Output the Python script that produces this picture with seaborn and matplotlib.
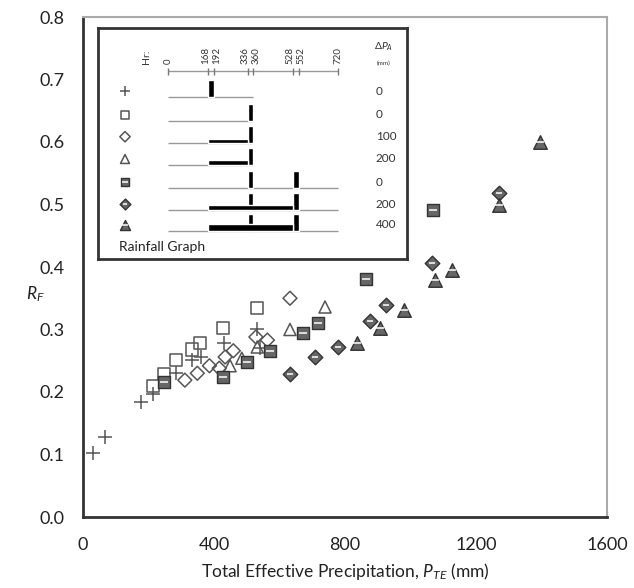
import matplotlib
matplotlib.use("Agg")
import matplotlib.pyplot as plt
import seaborn as sns
import pandas as pd

# ---------------- data ----------------
plus_x = [30, 67, 177, 214, 285, 334, 360, 431, 532, 540]
plus_y = [0.103, 0.128, 0.184, 0.197, 0.230, 0.251, 0.256, 0.279, 0.301, 0.271]

sq_x = [215, 248, 284, 332, 357, 428, 530]
sq_y = [0.210, 0.229, 0.251, 0.268, 0.278, 0.302, 0.334]

dia_x = [311, 349, 386, 416, 434, 459, 528, 563, 632]
dia_y = [0.219, 0.230, 0.242, 0.238, 0.256, 0.266, 0.288, 0.283, 0.350]

tri_x = [449, 485, 532, 632, 739]
tri_y = [0.242, 0.254, 0.272, 0.300, 0.336]

sqf_x = [247, 427, 500, 571, 671, 718, 864, 1068]
sqf_y = [0.216, 0.224, 0.248, 0.266, 0.295, 0.311, 0.381, 0.491]

diaf_x = [632, 708, 778, 876, 924, 1065, 1270]
diaf_y = [0.229, 0.256, 0.272, 0.314, 0.339, 0.406, 0.518]

trif_x = [836, 907, 981, 1075, 1126, 1270, 1395]
trif_y = [0.279, 0.302, 0.331, 0.379, 0.395, 0.499, 0.600]

x_ticks = [0, 400, 800, 1200, 1600]
y_ticks = [0.0, 0.1, 0.2, 0.3, 0.4, 0.5, 0.6, 0.7, 0.8]

# rainfall schedule (hours) for the inset
hr_ticks = [0, 168, 192, 336, 360, 528, 552, 720]
delta_p = [0, 0, 100, 200, 0, 200, 400]
pulses = [[(168, 192)], [(336, 360)], [(336, 360)], [(336, 360)],
          [(336, 360), (528, 552)], [(336, 360), (528, 552)], [(336, 360), (528, 552)]]
antecedent = [None, None, (168, 336), (168, 336), None, (168, 528), (168, 528)]
base_end = [360, 360, 360, 360, 720, 720, 720]

# ---------------- style ----------------
sns.set_theme(style="white")
plt.rcParams["font.family"] = ["Lato", "DejaVu Sans"]
plt.rcParams["mathtext.fontset"] = "custom"
plt.rcParams["mathtext.rm"] = "Lato"
plt.rcParams["mathtext.it"] = "Lato:italic"

EDGE = "#555555"
FILL = "#666666"

series = [
    ("plus", plus_x, plus_y, "+", False),
    ("sq", sq_x, sq_y, "s", False),
    ("dia", dia_x, dia_y, "D", False),
    ("tri", tri_x, tri_y, "^", False),
    ("sqf", sqf_x, sqf_y, "s", True),
    ("diaf", diaf_x, diaf_y, "D", True),
    ("trif", trif_x, trif_y, "^", True),
]

fig = plt.figure(figsize=(6.34, 5.88), dpi=100)
ax = fig.add_axes([83 / 634, 1 - 517 / 588, 524 / 634, 500 / 588])


def draw(axis, name, xs, ys, marker, filled, scale=1.0):
    df = pd.DataFrame({"x": xs, "y": ys})
    if filled:
        size = {"s": 70, "D": 55, "^": 95}[marker] * scale
    else:
        size = {"+": 90, "s": 75, "D": 50, "^": 75}[marker] * scale
    if marker == "+":
        sns.scatterplot(data=df, x="x", y="y", marker="+", s=size, color=EDGE,
                        linewidth=1.1, ax=axis, legend=False, zorder=3)
    elif not filled:
        sns.scatterplot(data=df, x="x", y="y", marker=marker, s=size, facecolor="none",
                        edgecolor=EDGE, linewidth=1.1, ax=axis, legend=False, zorder=3)
    else:
        sns.scatterplot(data=df, x="x", y="y", marker=marker, s=size, color=FILL,
                        edgecolor="#333333", linewidth=1.0, ax=axis, legend=False, zorder=3)
        sns.scatterplot(data=df, x="x", y="y", marker="_", s=size * 0.4, color="white",
                        linewidth=1.1, ax=axis, legend=False, zorder=4)


for name, xs, ys, mk, filled in series:
    draw(ax, name, xs, ys, mk, filled)

ax.set_xlim(0, 1600)
ax.set_ylim(0, 0.8)
ax.set_xticks(x_ticks)
ax.set_yticks(y_ticks)
ax.set_xticklabels([str(v) for v in x_ticks])
ax.set_yticklabels([f"{v:.1f}" for v in y_ticks])
ax.tick_params(direction="inout", length=9, width=1.5, color="#333333",
               labelsize=13, labelcolor="#222222")
ax.tick_params(axis="x", pad=10)
ax.tick_params(axis="y", pad=9)
for s in ["left", "bottom"]:
    ax.spines[s].set_linewidth(2)
    ax.spines[s].set_color("#333333")
for s in ["top", "right"]:
    ax.spines[s].set_linewidth(1.5)
    ax.spines[s].set_color("#aaaaaa")
ax.set_xlabel(r"Total Effective Precipitation, $P_{TE}$ (mm)", fontsize=12.5,
              color="#222222", labelpad=6)
ax.set_ylabel(r"$R_F$", fontsize=12.5, rotation=0, color="#222222")
ax.yaxis.set_label_coords(-0.09, 0.425)

# ---------------- inset rainfall graph ----------------
px0, pxs = 168.3, 0.2361  # pixel of hour 0, pixels per hour
L, T, R_, B = 98, 28, 407, 259
axi = fig.add_axes([L / 634, 1 - B / 588, (R_ - L) / 634, (B - T) / 588])
axi.set_xlim((L - px0) / pxs, (R_ - px0) / pxs)
axi.set_ylim(B, T)
axi.set_xticks([])
axi.set_yticks([])
axi.set_facecolor("white")
for s in axi.spines.values():
    s.set_linewidth(2)
    s.set_color("#333333")

# hour axis
axi.hlines(71, 0, 720, color="#999999", lw=1)
axi.vlines(hr_ticks, 67.5, 74.5, color="#777777", lw=1)
label_shift = {0: 0, 168: -11, 192: 11, 336: -11, 360: 11, 528: -11, 552: 11, 720: 0}
for h in hr_ticks:
    axi.text(h + label_shift[h], 64, str(h), rotation=90, ha="center", va="bottom",
             fontsize=7, color="#333333")
axi.text((146.7 - px0) / pxs, 64, "Hr:", rotation=90, ha="center", va="bottom",
         fontsize=7.5, color="#333333")
axi.text((384 - px0) / pxs, 53, r"$\Delta P_A$", ha="center", va="bottom",
         fontsize=7.5, color="#333333")
axi.text((384 - px0) / pxs, 63, "(mm)", ha="center", va="center", fontsize=4.5,
         color="#333333")

row_base = [97.3, 121, 142.7, 165, 188.3, 210, 230.7]
bar_h = 17
xm = (125 - px0) / pxs
xv = (376 - px0) / pxs
for i, (name, xs, ys, mk, filled) in enumerate(series):
    yb = row_base[i]
    axi.hlines(yb, 0, base_end[i], color="#999999", lw=1, zorder=1)
    for (a, b) in pulses[i]:
        axi.bar(a, -bar_h, width=b - a, bottom=yb, align="edge", color="black", zorder=2)
    if antecedent[i] is not None:
        a, b = antecedent[i]
        hh = 0.35 * delta_p[i] ** 0.5
        axi.bar(a, -hh, width=b - a, bottom=yb, align="edge", color="black", zorder=2)
    draw(axi, name, [xm], [yb - 6], mk, filled, scale=0.55)
    axi.text(xv, yb - 6, str(delta_p[i]), ha="left", va="center", fontsize=8.5,
             color="#333333")
axi.set_xlabel("")
axi.set_ylabel("")
axi.text((119 - px0) / pxs, 247, "Rainfall Graph", ha="left", va="center",
         fontsize=10, color="#222222")

fig.savefig("out.png", dpi=100)
